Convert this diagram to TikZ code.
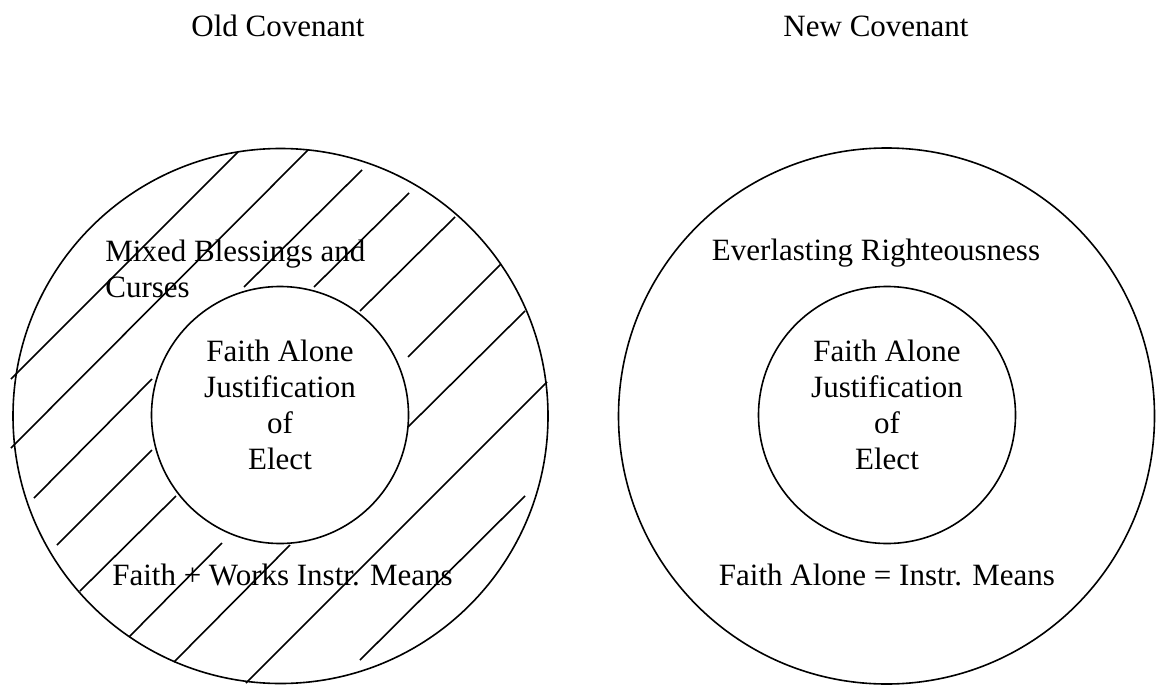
\documentclass[tikz,border=0pt]{standalone}
\usepackage{fontspec}
\setmainfont{Liberation Serif}
\begin{document}
\begin{tikzpicture}[x=0.5pt,y=-0.5pt,
  ring/.style={circle,draw,line width=0.8pt,minimum size=#1,inner sep=0pt},
  lbl/.style={font=\fontsize{15.5}{18}\selectfont,inner sep=0pt},
  hatch/.style={line width=0.8pt}]
\useasboundingbox (0,0) rectangle (1159,684);
% titles
\node[lbl] (tOld) at (278,26) {Old Covenant};
\node[lbl] (tNew) at (876,26) {New Covenant};
% left circles
\node[ring=267.5pt] (outerL) at (280.5,416) {};
\node[ring=128.5pt] (innerL) at (280,415) {};
% hatching of the old covenant ring
\draw[hatch] (11,379) -- (238,152);
\draw[hatch] (11,448) -- (308,150);
\draw[hatch] (34,498) -- (152,379);
\draw[hatch] (244,287) -- (362,170);
\draw[hatch] (57,545) -- (152,450);
\draw[hatch] (314,287) -- (409,193);
\draw[hatch] (80,591) -- (176,496);
\draw[hatch] (360,311) -- (455,217);
\draw[hatch] (129,637) -- (222,543);
\draw[hatch] (408,357) -- (501,264);
\draw[hatch] (174,662) -- (290,545);
\draw[hatch] (408,427) -- (525,311);
\draw[hatch] (246,683) -- (547,382);
\draw[hatch] (360,660) -- (525,496);
% left texts
\node[lbl,anchor=west,align=left] (mixed) at (105,268.5) {Mixed Blessings and\\Curses};
\node[lbl,align=center] (coreL) at (280,404.5) {Faith Alone\\Justification\\of\\Elect};
\node[lbl] (meansL) at (282.5,575) {Faith + Works Instr. Means};
% right circles
\node[ring=268pt] (outerR) at (886.5,416) {};
\node[ring=128.5pt] (innerR) at (887,415) {};
% right texts
\node[lbl] (ever) at (876,253) {Everlasting Righteousness};
\node[lbl,align=center] (coreR) at (887,404.5) {Faith Alone\\Justification\\of\\Elect};
\node[lbl] (meansR) at (887,575) {Faith Alone = Instr. Means};
\end{tikzpicture}
\end{document}
